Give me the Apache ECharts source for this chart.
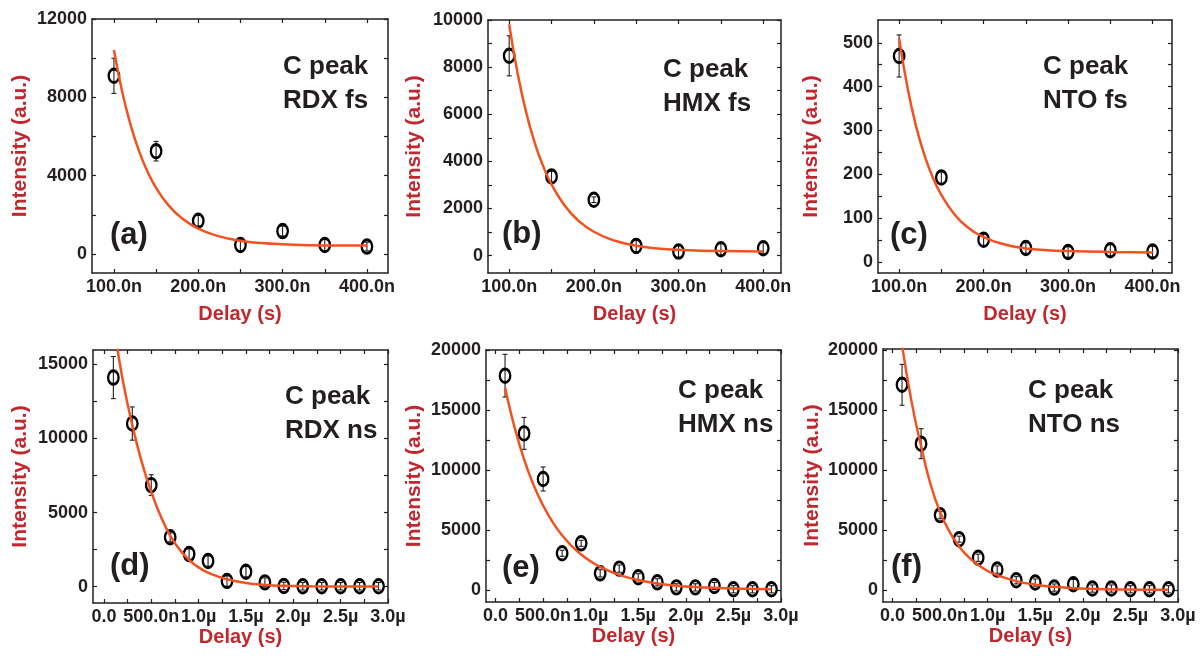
<!DOCTYPE html>
<html>
<head>
<meta charset="UTF-8">
<title>C peak decay</title>
<script src="https://cdn.jsdelivr.net/npm/echarts@6/dist/echarts.min.js"></script>
<style>
body{margin:0;background:#fff;}
#main{width:1201px;height:656px;}
</style>
</head>
<body>
<div id="main"></div>
<script type="text/javascript">
// delays: fs panels in ns, ns panels in µs
var fsDelay = [100, 150, 200, 250, 300, 350, 400];
var nsDelay = [0.1, 0.3, 0.5, 0.7, 0.9, 1.1, 1.3, 1.5, 1.7, 1.9, 2.1, 2.3, 2.5, 2.7, 2.9];

// measured intensities and error bars
var rdxFs = [9100, 5250, 1700, 460, 1170, 460, 380];
var rdxFsErr = [900, 500, 270, 300, 250, 300, 220];
var hmxFs = [8480, 3360, 2370, 410, 170, 270, 310];
var hmxFsErr = [850, 230, 120, 300, 250, 250, 250];
var ntoFs = [470, 193, 51, 32, 23, 27, 24];
var ntoFsErr = [48, 15, 15, 12, 12, 13, 12];
var rdxNs = [14100, 11000, 6850, 3330, 2200, 1730, 380, 1010, 290, 50, 30, 30, 30, 30, 30];
var rdxNsErr = [1420, 1120, 700, 300, 350, 350, 350, 350, 300, 250, 250, 250, 250, 250, 250];
var hmxNs = [17860, 13050, 9250, 3060, 3890, 1390, 1780, 1060, 640, 220, 220, 330, 60, 60, 60];
var hmxNsErr = [1780, 1330, 1000, 250, 250, 300, 300, 300, 300, 300, 300, 300, 300, 300, 300];
var ntoNs = [17100, 12200, 6250, 4250, 2700, 1720, 830, 640, 220, 500, 140, 140, 80, 80, 80];
var ntoNsErr = [1700, 1250, 300, 250, 300, 300, 300, 300, 300, 400, 300, 300, 300, 300, 300];

// fitted curves
var fsFitX = [100, 110, 120, 130, 140, 150, 165, 180, 200, 225, 250, 275, 300, 350, 400];
var rdxFsFit = [10420, 8250, 6560, 5230, 4190, 3380, 2470, 1850, 1290, 900, 680, 560, 500, 440, 430];
var hmxFsFit = [9820, 7730, 6090, 4810, 3810, 3020, 2150, 1540, 1010, 630, 420, 305, 245, 190, 175];
var ntoFsFit = [510, 397, 310, 244, 192, 153, 110, 81, 57, 40, 31, 27, 25, 23, 22];
var rdxNsFitX = [0.12, 0.2, 0.3, 0.4, 0.5, 0.6, 0.7, 0.8, 0.9, 1.0, 1.1, 1.2, 1.3, 1.5, 1.7, 1.9, 2.2, 2.6, 2.9];
var rdxNsFit = [17000, 13900, 10900, 8400, 6400, 4750, 3450, 2500, 1800, 1300, 950, 700, 500, 250, 120, 60, 25, 10, 5];
var nsFitX = [0.1, 0.2, 0.3, 0.4, 0.5, 0.6, 0.7, 0.8, 0.9, 1.0, 1.1, 1.3, 1.5, 1.7, 1.9, 2.2, 2.6, 2.9];
var hmxNsFit = [16850, 13550, 10890, 8755, 7040, 5660, 4555, 3670, 2960, 2385, 1925, 1260, 830, 550, 350, 200, 100, 65];
var ntoNsFit = [20400, 15700, 12000, 8800, 6500, 4850, 3650, 2750, 2100, 1600, 1250, 760, 460, 280, 170, 90, 50, 40];

// tick labels
var fsTickVals = [100, 200, 300, 400];
var fsTickText = ['100.0n', '200.0n', '300.0n', '400.0n'];
var fsMinorTicks = [100, 150, 200, 250, 300, 350, 400];
var nsTickVals = [0, 0.5, 1.0, 1.5, 2.0, 2.5, 3.0];
var nsTickText = ['0.0', '500.0n', '1.0µ', '1.5µ', '2.0µ', '2.5µ', '3.0µ'];
var nsMinorTicks = [0, 0.25, 0.5, 0.75, 1.0, 1.25, 1.5, 1.75, 2.0, 2.25, 2.5, 2.75, 3.0];

var yLabels = [
    [0, 4000, 8000, 12000],
    [0, 2000, 4000, 6000, 8000, 10000],
    [0, 100, 200, 300, 400, 500],
    [0, 5000, 10000, 15000],
    [0, 5000, 10000, 15000, 20000],
    [0, 5000, 10000, 15000, 20000]
];
var yTicks = [
    [0, 2000, 4000, 6000, 8000, 10000, 12000],
    [0, 1000, 2000, 3000, 4000, 5000, 6000, 7000, 8000, 9000, 10000],
    [0, 50, 100, 150, 200, 250, 300, 350, 400, 450, 500],
    [0, 2500, 5000, 7500, 10000, 12500, 15000],
    [0, 2500, 5000, 7500, 10000, 12500, 15000, 17500, 20000],
    [0, 2500, 5000, 7500, 10000, 12500, 15000, 17500, 20000]
];

var panels = [
    {x: fsDelay, y: rdxFs, err: rdxFsErr, fx: fsFitX, fy: rdxFsFit, ns: false, line1: 'C peak', line2: 'RDX fs', tag: '(a)'},
    {x: fsDelay, y: hmxFs, err: hmxFsErr, fx: fsFitX, fy: hmxFsFit, ns: false, line1: 'C peak', line2: 'HMX fs', tag: '(b)'},
    {x: fsDelay, y: ntoFs, err: ntoFsErr, fx: fsFitX, fy: ntoFsFit, ns: false, line1: 'C peak', line2: 'NTO fs', tag: '(c)'},
    {x: nsDelay, y: rdxNs, err: rdxNsErr, fx: rdxNsFitX, fy: rdxNsFit, ns: true, line1: 'C peak', line2: 'RDX ns', tag: '(d)'},
    {x: nsDelay, y: hmxNs, err: hmxNsErr, fx: nsFitX, fy: hmxNsFit, ns: true, line1: 'C peak', line2: 'HMX ns', tag: '(e)'},
    {x: nsDelay, y: ntoNs, err: ntoNsErr, fx: nsFitX, fy: ntoNsFit, ns: true, line1: 'C peak', line2: 'NTO ns', tag: '(f)'}
];

// plot boxes and ranges (pixels / axis units)
var layout = [
    {left: 92, top: 19, width: 296, height: 254, xr: [74, 425], yr: [-970, 12000], gx: 31, gy: 61, tx: 283, ty: 70, ax: 110, ay: 238},
    {left: 488, top: 20, width: 293, height: 253, xr: [75, 421], yr: [-740, 10000], gx: 31, gy: 63, tx: 663, ty: 73, ax: 502, ay: 237},
    {left: 878, top: 20, width: 294, height: 253, xr: [75, 423], yr: [-25, 552], gx: 31, gy: 56, tx: 1043, ty: 70, ax: 890, ay: 238},
    {left: 93, top: 350, width: 295, height: 253, xr: [-0.115, 3.0], yr: [-1100, 15960], gx: 24, gy: 62, tx: 285, ty: 400, ax: 110, ay: 569},
    {left: 486, top: 350, width: 295, height: 252, xr: [-0.1, 3.0], yr: [-1000, 20000], gx: 24, gy: 61, tx: 678, ty: 394, ax: 502, ay: 571},
    {left: 883, top: 349, width: 295, height: 253, xr: [-0.1, 3.0], yr: [-980, 20080], gx: 24, gy: 60, tx: 1028, ty: 394, ax: 891, ay: 570}
];

var ink = '#231f20';
var red = '#c1272d';
var fitColor = '#f2521f';
var font = '"Liberation Sans", Arial, Helvetica, sans-serif';

function pickLabel(vals, text) {
    return function (v) {
        for (var k = 0; k < vals.length; k++) {
            if (Math.abs(vals[k] - v) < 1e-9) return text[k];
        }
        return '';
    };
}

function renderErr(params, api) {
    var x = api.value(0);
    var lo = api.coord([x, api.value(1)]);
    var hi = api.coord([x, api.value(2)]);
    var c = 2.5;
    var st = {stroke: ink, lineWidth: 1.1};
    return {type: 'group', children: [
        {type: 'line', shape: {x1: lo[0], y1: lo[1], x2: hi[0], y2: hi[1]}, style: st},
        {type: 'line', shape: {x1: lo[0] - c, y1: lo[1], x2: lo[0] + c, y2: lo[1]}, style: st},
        {type: 'line', shape: {x1: hi[0] - c, y1: hi[1], x2: hi[0] + c, y2: hi[1]}, style: st}
    ]};
}

var grids = [], xAxes = [], yAxes = [], series = [], texts = [];
var labelStyle = {color: ink, fontSize: 18, fontWeight: 'bold', fontFamily: font, margin: 5};
var lineStyle = {color: ink, width: 1.5};
var tickStyle = {color: ink, width: 1.2};

for (var i = 0; i < panels.length; i++) {
    var p = panels[i], L = layout[i];
    grids.push({left: L.left, top: L.top, width: L.width, height: L.height, outerBoundsMode: 'none', containLabel: false});

    var xl = p.ns ? nsTickVals : fsTickVals;
    var xt = p.ns ? nsTickText : fsTickText;
    var xm = p.ns ? nsMinorTicks : fsMinorTicks;

    xAxes.push({
        gridIndex: i, type: 'value', position: 'bottom', min: L.xr[0], max: L.xr[1],
        axisLine: {onZero: false, lineStyle: lineStyle},
        axisTick: {inside: true, length: 4, customValues: xm, lineStyle: tickStyle},
        axisLabel: Object.assign({customValues: xl, formatter: pickLabel(xl, xt)}, labelStyle),
        splitLine: {show: false},
        name: 'Delay (s)', nameLocation: 'middle', nameGap: L.gx,
        nameTextStyle: {color: red, fontSize: 20, fontWeight: 'bold', fontFamily: font}
    });
    xAxes.push({
        gridIndex: i, type: 'value', position: 'top', min: L.xr[0], max: L.xr[1],
        axisLine: {onZero: false, lineStyle: lineStyle},
        axisTick: {inside: true, length: 4, customValues: xm, lineStyle: tickStyle},
        axisLabel: {show: false}, splitLine: {show: false}
    });
    yAxes.push({
        gridIndex: i, type: 'value', position: 'left', min: L.yr[0], max: L.yr[1],
        axisLine: {onZero: false, show: true, lineStyle: lineStyle},
        axisTick: {show: true, inside: true, length: 4, customValues: yTicks[i], lineStyle: tickStyle},
        axisLabel: Object.assign({customValues: yLabels[i], formatter: function (v) { return String(v); }}, labelStyle),
        splitLine: {show: false},
        name: 'Intensity (a.u.)', nameLocation: 'middle', nameGap: L.gy,
        nameTextStyle: {color: red, fontSize: 21, fontWeight: 'bold', fontFamily: font}
    });
    yAxes.push({
        gridIndex: i, type: 'value', position: 'right', min: L.yr[0], max: L.yr[1],
        axisLine: {onZero: false, show: true, lineStyle: lineStyle},
        axisTick: {show: true, inside: true, length: 4, customValues: yTicks[i], lineStyle: tickStyle},
        axisLabel: {show: false}, splitLine: {show: false}
    });

    var pts = [], bars = [], fit = [];
    for (var k = 0; k < p.x.length; k++) {
        pts.push([p.x[k], p.y[k]]);
        bars.push([p.x[k], p.y[k] - p.err[k], p.y[k] + p.err[k]]);
    }
    for (k = 0; k < p.fx.length; k++) fit.push([p.fx[k], p.fy[k]]);

    series.push({
        type: 'custom', xAxisIndex: 2 * i, yAxisIndex: 2 * i, renderItem: renderErr,
        encode: {x: 0, y: [1, 2]}, data: bars, z: 2, silent: true
    });
    series.push({
        type: 'scatter', xAxisIndex: 2 * i, yAxisIndex: 2 * i, data: pts, z: 3,
        symbol: 'path://M0,-1A1,1,0,1,1,0,1A1,1,0,1,1,0,-1Z', symbolSize: [10.5, 13.5],
        itemStyle: {color: 'rgba(0,0,0,0)', borderColor: '#000000', borderWidth: 2.6, opacity: 1}
    });
    series.push({
        type: 'line', xAxisIndex: 2 * i, yAxisIndex: 2 * i, data: fit, z: 4,
        showSymbol: false, smooth: true, clip: true,
        lineStyle: {color: fitColor, width: 2.5}
    });

    var tf = 'bold 26px ' + font;
    texts.push({type: 'text', left: L.tx, top: L.ty - 16, style: {text: p.line1, font: tf, fill: ink}});
    texts.push({type: 'text', left: L.tx, top: L.ty + 18, style: {text: p.line2, font: tf, fill: ink}});
    texts.push({type: 'text', left: L.ax, top: L.ay - 18, style: {text: p.tag, font: 'bold 31px ' + font, fill: ink}});
}

var chart = echarts.init(document.getElementById('main'));
chart.setOption({
    animation: false,
    backgroundColor: '#ffffff',
    grid: grids,
    xAxis: xAxes,
    yAxis: yAxes,
    series: series,
    graphic: texts
});
</script>
</body>
</html>
